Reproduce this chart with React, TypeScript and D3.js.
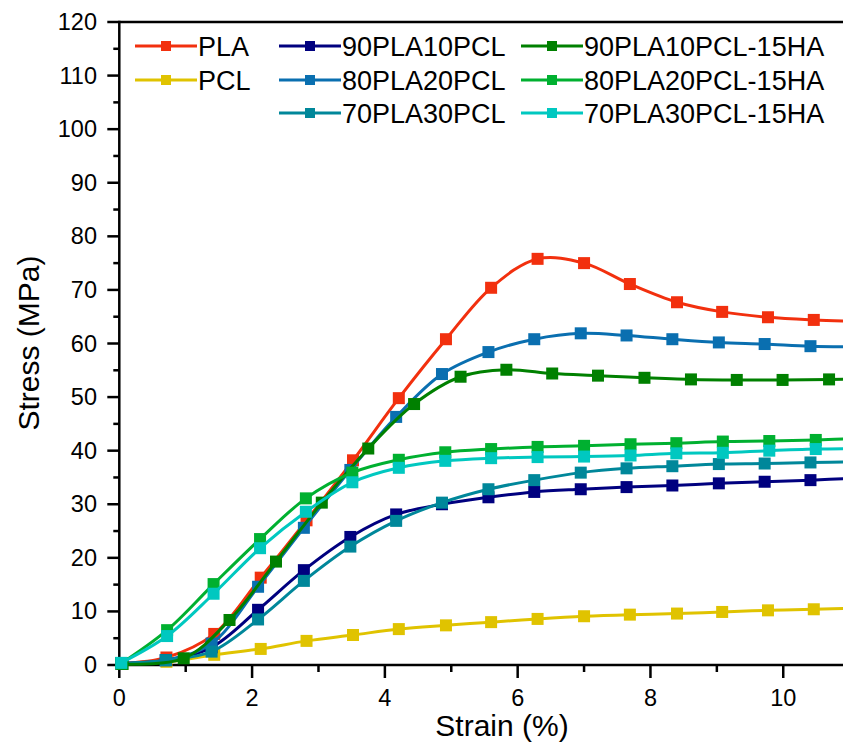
import * as d3 from 'd3'

const WIDTH = 843
const HEIGHT = 744
const FONT = 'Liberation Sans, Arial, sans-serif'

// strain grids (%) where each curve carries its square markers
const strainA = [0.03, 0.71, 1.43, 2.13, 2.82, 3.52, 4.21, 4.92, 5.6, 6.3, 7.0, 7.69, 8.4, 9.08, 9.77, 10.46, 11.16]
const strainB = [0.03, 0.7, 1.39, 2.09, 2.78, 3.48, 4.17, 4.86, 5.56, 6.25, 6.95, 7.64, 8.33, 9.03, 9.72, 10.41, 11.11]
const strainC = [0.05, 0.97, 1.66, 2.36, 3.05, 3.75, 4.44, 5.14, 5.83, 6.52, 7.21, 7.91, 8.61, 9.3, 9.99, 10.69, 11.38]
const strainD = [0.03, 0.72, 1.42, 2.12, 2.81, 3.51, 4.21, 4.91, 5.6, 6.3, 7.0, 7.7, 8.39, 9.09, 9.79, 10.49, 11.19]

// stress (MPa)
const stressPLA = [0.3, 1.4, 5.8, 16.3, 27.0, 38.2, 49.8, 60.8, 70.4, 75.8, 75.0, 71.1, 67.7, 65.9, 64.9, 64.4, 64.1]
const stressPCL = [0.2, 0.6, 1.9, 3.0, 4.5, 5.6, 6.7, 7.4, 8.0, 8.6, 9.1, 9.4, 9.6, 9.9, 10.2, 10.4, 10.6]
const stress90PLA10PCL = [0.3, 0.9, 3.3, 10.3, 17.7, 23.9, 28.1, 30.0, 31.3, 32.3, 32.8, 33.2, 33.5, 33.9, 34.2, 34.5, 34.9]
const stress80PLA20PCL = [0.3, 0.9, 4.0, 14.6, 25.6, 36.4, 46.3, 54.3, 58.4, 60.8, 61.9, 61.5, 60.8, 60.2, 59.9, 59.5, 59.4]
const stress70PLA30PCL = [0.3, 0.9, 2.5, 8.5, 15.7, 22.1, 26.9, 30.3, 32.8, 34.5, 35.9, 36.7, 37.1, 37.5, 37.6, 37.8, 37.9]
const stress90HA = [0.2, 1.25, 8.4, 19.3, 30.3, 40.4, 48.7, 53.8, 55.1, 54.4, 54.0, 53.6, 53.3, 53.2, 53.2, 53.3, 53.3]
const stress80HA = [0.3, 6.5, 15.1, 23.5, 31.1, 35.9, 38.3, 39.7, 40.3, 40.7, 40.9, 41.2, 41.4, 41.7, 41.8, 42.0, 42.3]
const stress70HA = [0.4, 5.4, 13.3, 21.8, 28.6, 34.1, 36.8, 38.1, 38.6, 38.8, 38.9, 39.1, 39.5, 39.6, 40.0, 40.3, 40.4]

const seriesNames = [
  'PLA', 'PCL', '90PLA10PCL', '80PLA20PCL', '70PLA30PCL',
  '90PLA10PCL-15HA', '80PLA20PCL-15HA', '70PLA30PCL-15HA'
]
const seriesColors = [
  '#f2300e', '#e0c300', '#00007f', '#0a6fb0', '#00879a',
  '#008000', '#00b030', '#00c8c0'
]
const seriesStrain = [strainA, strainA, strainB, strainB, strainB, strainC, strainD, strainD]
const seriesStress = [
  stressPLA, stressPCL, stress90PLA10PCL, stress80PLA20PCL, stress70PLA30PCL,
  stress90HA, stress80HA, stress70HA
]

// legend grid: column, row for each series
const legendCol = [0, 0, 1, 1, 1, 2, 2, 2]
const legendRow = [0, 1, 0, 1, 2, 0, 1, 2]

const xMajor = [0, 2, 4, 6, 8, 10]
const xMinor = [1, 3, 5, 7, 9]
const yMajor = [0, 10, 20, 30, 40, 50, 60, 70, 80, 90, 100, 110, 120]
const yMinor = [5, 15, 25, 35, 45, 55, 65, 75, 85, 95, 105, 115]

export default function App() {
  const x = d3.scaleLinear().domain([0, 10.9]).range([119.3, WIDTH])
  const y = d3.scaleLinear().domain([0, 120]).range([665, 22])

  const line = d3.line<number[]>()
    .x(d => x(d[0]))
    .y(d => y(d[1]))
    .curve(d3.curveCatmullRom.alpha(0.5))

  const legendX = [135, 279, 521]
  const legendY = [46, 80, 113]
  const legendLen = 62

  return (
    <svg width={WIDTH} height={HEIGHT} style={{ position: 'absolute', left: 0, top: 0, background: '#fff' }}>
      {/* axes frame */}
      <line x1={x(0)} x2={WIDTH} y1={y(0)} y2={y(0)} stroke="#000" strokeWidth={2.5} />
      <line x1={x(0)} x2={WIDTH} y1={y(120)} y2={y(120)} stroke="#000" strokeWidth={2.5} />
      <line x1={x(0)} x2={x(0)} y1={y(120) - 1.2} y2={y(0) + 1.2} stroke="#000" strokeWidth={2.5} />

      {/* y ticks */}
      {yMajor.map(t => (
        <g key={'ym' + t}>
          <line x1={x(0) - 12} x2={x(0)} y1={y(t)} y2={y(t)} stroke="#000" strokeWidth={2.5} />
          <text x={97} y={y(t) + 8} textAnchor="end" fontSize={23.5} fontFamily={FONT} fill="#000">{t}</text>
        </g>
      ))}
      {yMinor.map(t => (
        <line key={'yn' + t} x1={x(0) - 6} x2={x(0)} y1={y(t)} y2={y(t)} stroke="#000" strokeWidth={2.5} />
      ))}

      {/* x ticks */}
      {xMajor.map(t => (
        <g key={'xm' + t}>
          <line x1={x(t)} x2={x(t)} y1={y(0)} y2={y(0) + 13} stroke="#000" strokeWidth={2.5} />
          <text x={x(t)} y={706} textAnchor="middle" fontSize={23.5} fontFamily={FONT} fill="#000">{t}</text>
        </g>
      ))}
      {xMinor.map(t => (
        <line key={'xn' + t} x1={x(t)} x2={x(t)} y1={y(0)} y2={y(0) + 7} stroke="#000" strokeWidth={2.5} />
      ))}

      {/* axis titles */}
      <text x={502} y={736} textAnchor="middle" fontSize={30} fontFamily={FONT} fill="#000">
        Strain (%)
      </text>
      <text transform="translate(39, 343) rotate(-90)" textAnchor="middle" fontSize={30} fontFamily={FONT} fill="#000">
        Stress (MPa)
      </text>

      {/* curves */}
      {seriesNames.map((name, i) => {
        const pts = seriesStrain[i].map((s, j) => [s, seriesStress[i][j]])
        return (
          <g key={name}>
            <path d={line(pts) || ''} fill="none" stroke={seriesColors[i]} strokeWidth={3} />
            {pts.map((p, j) => (
              <rect key={j} x={x(p[0]) - 6} y={y(p[1]) - 6} width={12} height={12} fill={seriesColors[i]} />
            ))}
          </g>
        )
      })}

      {/* legend */}
      {seriesNames.map((name, i) => {
        const lx = legendX[legendCol[i]]
        const ly = legendY[legendRow[i]]
        return (
          <g key={'lg' + name}>
            <line x1={lx} x2={lx + legendLen} y1={ly} y2={ly} stroke={seriesColors[i]} strokeWidth={3} />
            <rect x={lx + legendLen / 2 - 5} y={ly - 5} width={10} height={10} fill={seriesColors[i]} />
            <text x={lx + legendLen + 1} y={ly + 9.5} fontSize={27} fontFamily={FONT} fill="#000">
              {name}
            </text>
          </g>
        )
      })}
    </svg>
  )
}
